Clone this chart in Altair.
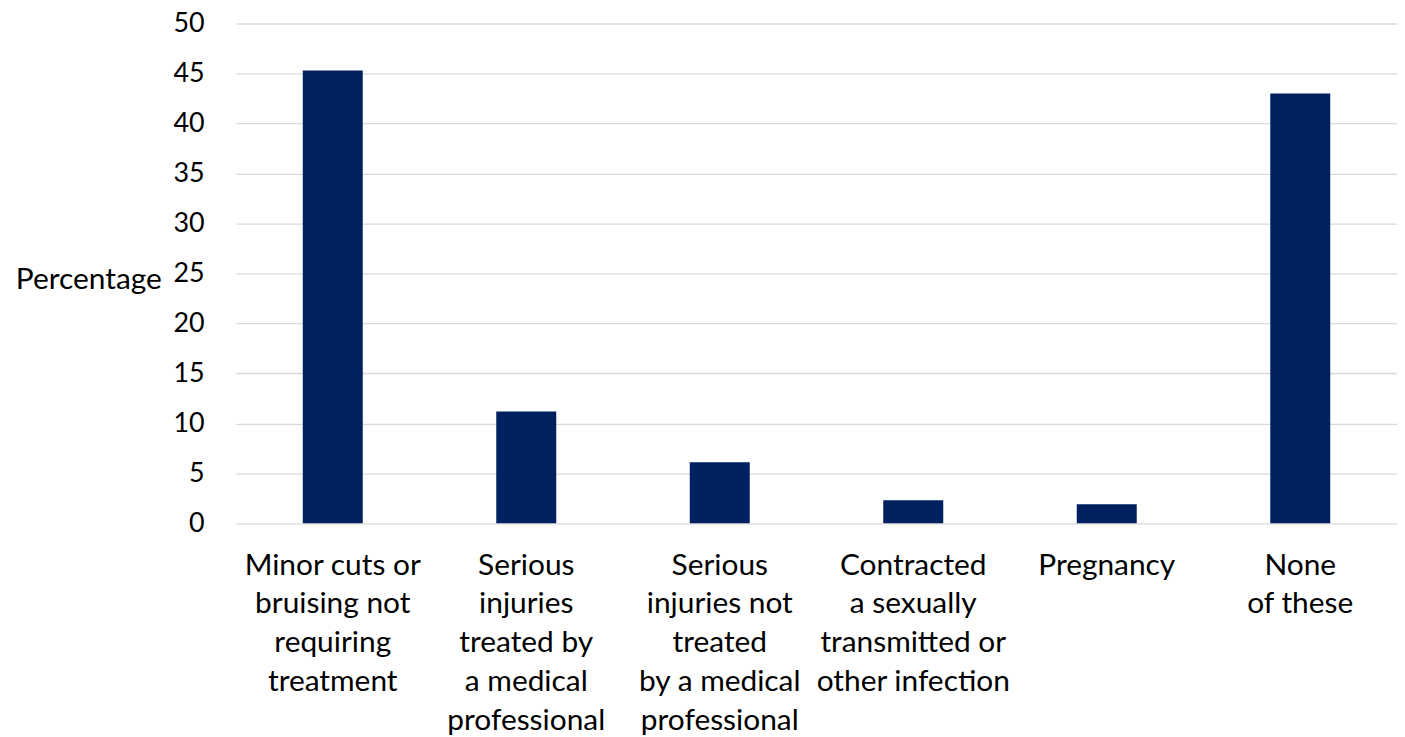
import altair as alt
import pandas as pd

categories = [
    "Minor cuts or|bruising not|requiring|treatment",
    "Serious|injuries|treated by|a medical|professional",
    "Serious|injuries not|treated|by a medical|professional",
    "Contracted|a sexually|transmitted or|other infection",
    "Pregnancy",
    "None|of these",
]
values = [45.3, 11.2, 6.1, 2.3, 1.9, 43.0]
y_ticks = [0, 5, 10, 15, 20, 25, 30, 35, 40, 45, 50]

df = pd.DataFrame({"cat": categories, "val": values})

FONT = "Lato"
FS = 30

chart = (
    alt.Chart(df)
    .mark_bar(color="#002060")
    .encode(
        x=alt.X(
            "cat:N",
            sort=categories,
            title=None,
            scale=alt.Scale(paddingInner=0.69, paddingOuter=0.345),
            axis=alt.Axis(
                labelExpr="split(datum.label, '|')",
                labelAngle=0,
                labelFont=FONT,
                labelFontSize=FS,
                labelColor="#000000",
                labelLineHeight=39,
                labelPadding=27,
                labelBaseline="top",
                ticks=False,
                domain=False,
                grid=False,
                labelLimit=400,
            ),
        ),
        y=alt.Y(
            "val:Q",
            scale=alt.Scale(domain=[0, 50], nice=False),
            axis=alt.Axis(
                values=y_ticks,
                title="Percentage",
                titleAngle=0,
                titleAlign="right",
                titleBaseline="alphabetic",
                titleX=-75,
                titleY=266,
                titleFont=FONT,
                titleFontSize=FS,
                titleFontWeight="normal",
                titleColor="#000000",
                labelFont=FONT,
                labelFontSize=27,
                labelColor="#000000",
                labelPadding=32,
                ticks=False,
                domain=False,
                grid=True,
                gridColor="#d9d9d9",
                gridWidth=1.3,
            ),
        ),
    )
    .properties(
        width=1166,
        height=502,
        autosize=alt.AutoSizeParams(type="none"),
        padding={"left": 229, "top": 14, "right": 0, "bottom": 213},
    )
    .configure_view(stroke=None)
)

chart.save("out.html", embed_options={"renderer": "svg", "actions": False})
